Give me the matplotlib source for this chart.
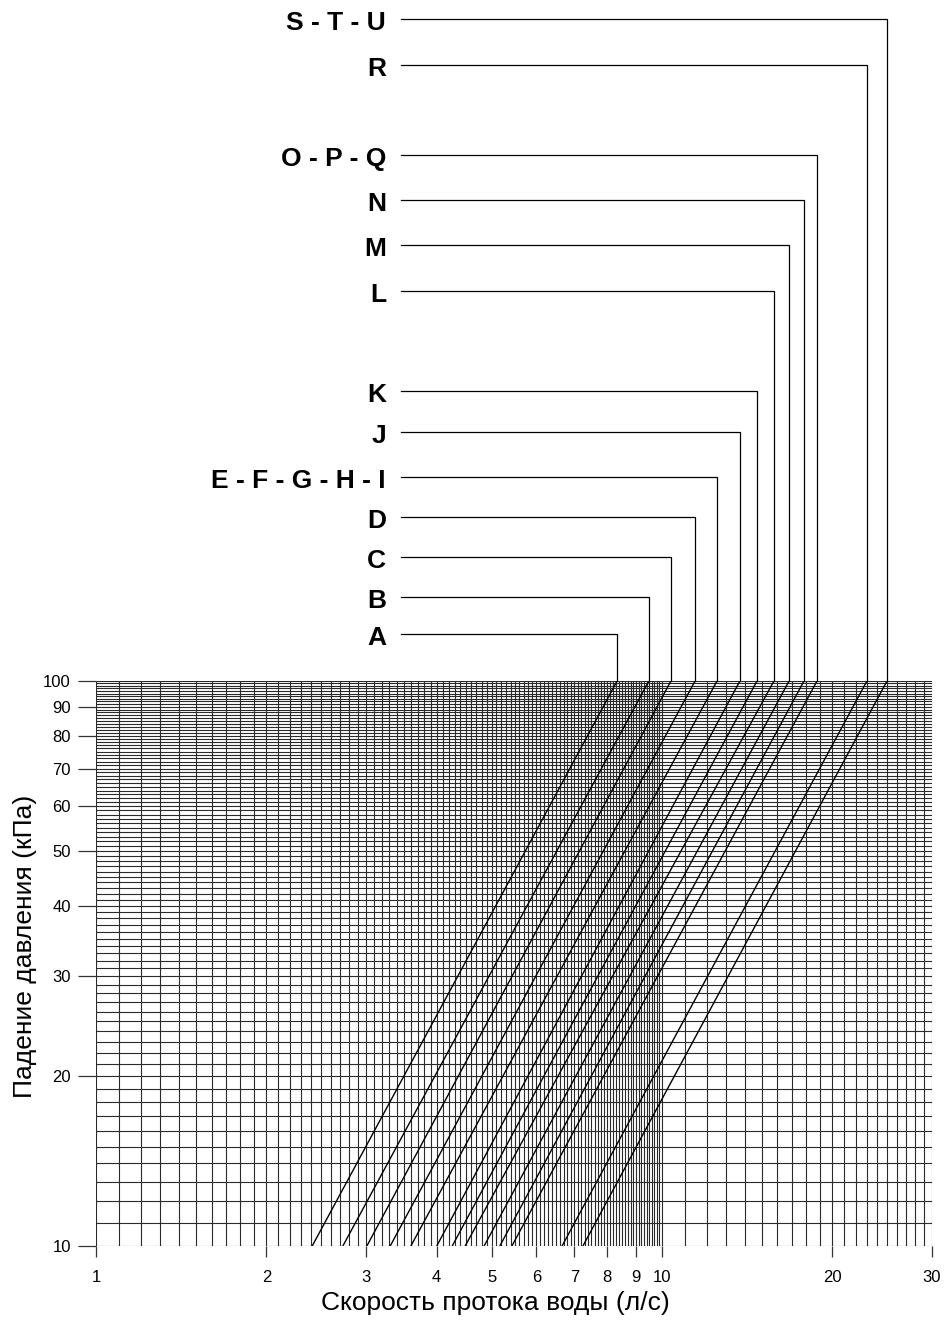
import numpy as np
import matplotlib
matplotlib.use('Agg')
import matplotlib.pyplot as plt
from matplotlib.ticker import NullLocator

plt.rcParams['font.family'] = ['Liberation Sans', 'DejaVu Sans']

# ---- data ----
models = ['A', 'B', 'C', 'D', 'E - F - G - H - I', 'J', 'K', 'L', 'M', 'N',
          'O - P - Q', 'R', 'S - T - U']
flow_at_10kpa = [2.41, 2.73, 3.01, 3.31, 3.60, 4.00, 4.26, 4.49, 4.85, 5.17,
                 5.43, 6.66, 7.25]
flow_at_100kpa = [8.33, 9.48, 10.37, 11.44, 12.51, 13.73, 14.72, 15.77, 16.77,
                  17.82, 18.79, 23.02, 24.98]
pressure_ends = [10, 100]
x_ticks = [1, 2, 3, 4, 5, 6, 7, 8, 9, 10, 20, 30]
y_ticks = [10, 20, 30, 40, 50, 60, 70, 80, 90, 100]

# ---- layout ----
W, H = 952, 1321
label_rows_px = [634, 597, 557, 517, 477, 432, 391, 291, 245, 200, 155, 65, 19]


def box(l, t, r, b):
    return [l / W, 1 - b / H, (r - l) / W, (b - t) / H]


fig = plt.figure(figsize=(W / 100, H / 100), dpi=100)
ax = fig.add_axes(box(96, 681, 932, 1246))
ax.set_xscale('log')
ax.set_yscale('log')
ax.set_xlim(1, 30)
ax.set_ylim(10, 100)

# grid
grid_x = list(np.round(np.arange(1.0, 10.0, 0.1), 2)) + list(range(10, 31))
grid_y = list(range(10, 101))
ax.vlines(grid_x, 10, 100, colors='#2a2a2a', linewidth=0.8, zorder=1)
ax.hlines(grid_y, 1, 30, colors='#2a2a2a', linewidth=0.8, zorder=1)

# curves
for q10, q100 in zip(flow_at_10kpa, flow_at_100kpa):
    ax.plot([q10, q100], pressure_ends, color='black', linewidth=1.0,
            zorder=3, solid_capstyle='butt')

for s in ax.spines.values():
    s.set_visible(False)
ax.set_xticks(x_ticks)
ax.set_xticklabels([str(v) for v in x_ticks])
ax.set_yticks(y_ticks)
ax.set_yticklabels([str(v) for v in y_ticks])
ax.xaxis.set_minor_locator(NullLocator())
ax.yaxis.set_minor_locator(NullLocator())
ax.tick_params(axis='x', length=8, width=0.9, color='#333333', pad=9,
               labelsize=12)
ax.tick_params(axis='y', length=13, width=0.9, color='#333333', pad=5,
               labelsize=12)

# top leader panel
tax = fig.add_axes(box(96, 0, 932, 681))
tax.set_xscale('log')
tax.set_xlim(1, 30)
tax.set_ylim(681, 0)
tax.axis('off')

dec = np.log10(30)
x_line_start = 10 ** ((401 - 96) / 836 * dec)
x_text = 10 ** ((386 - 96) / 836 * dec)

for name, q100, yrow in zip(models, flow_at_100kpa, label_rows_px):
    tax.plot([x_line_start, q100, q100], [yrow, yrow, 681], color='black',
             linewidth=0.9, clip_on=False, solid_joinstyle='miter')
    tax.text(x_text, yrow + 4, name, ha='right', va='center', fontsize=19,
             fontweight='bold')

fig.text(495 / W, 1 - 1303 / H, 'Скорость протока воды (л/с)', ha='center',
         va='center', fontsize=19)
fig.text(25 / W, 1 - 946 / H, 'Падение давления (кПа)', ha='center',
         va='center', fontsize=19, rotation=90)

fig.savefig('out.png', dpi=100)
